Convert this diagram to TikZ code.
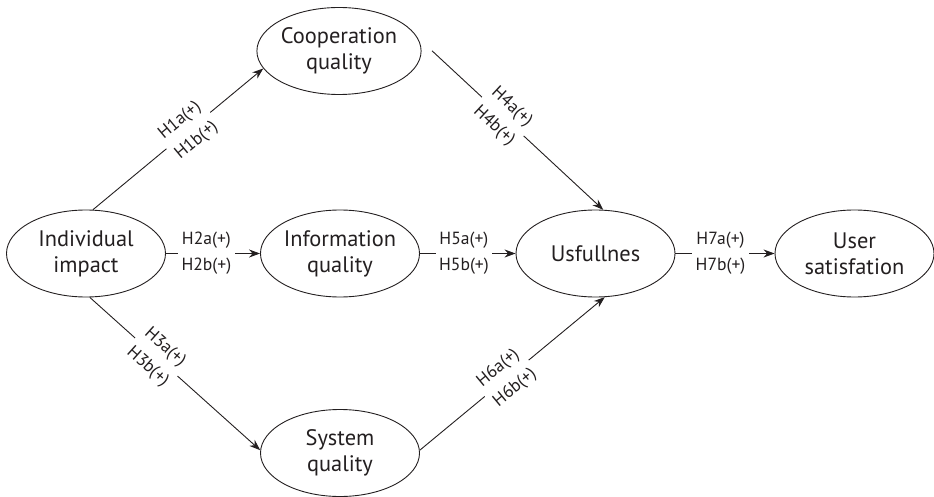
\documentclass[tikz,border=0pt]{standalone}
\usepackage{fontspec}
\setmainfont{PT Sans}
\usetikzlibrary{arrows.meta,shapes.geometric}
\definecolor{ink}{RGB}{35,31,32}
\begin{document}
\begin{tikzpicture}[x=1pt,y=1pt,
  construct/.style={ellipse, draw=ink, line width=0.9pt, minimum width=159pt,
    minimum height=87pt, inner sep=0pt, align=center, text=ink,
    font=\fontsize{22.4}{26}\selectfont},
  link/.style={draw=ink, line width=0.9pt, -{Stealth[length=11pt,width=8pt]}},
  hyp/.style={fill=white, sloped, align=center, inner sep=3.5pt, text=ink,
    font=\fontsize{17.6}{26}\selectfont}]
\useasboundingbox (0,0) rectangle (934,-497);

% constructs
\node[construct] (ind)  at (86,-253.5)  {Individual\\impact};
\node[construct] (coop) at (339,-51)    {Cooperation\\quality};
\node[construct] (info) at (340,-253.5) {Information\\quality};
\node[construct] (sys)  at (340,-453)   {System\\quality};
\node[construct] (usf)  at (595.5,-253.5) {Usfullnes};
\node[construct] (user) at (854.5,-253.5) {User\\satisfation};

% hypotheses
\draw[link] (ind.81) -- node[hyp,pos=0.56]{H1a(+)\\H1b(+)} (coop.193);
\draw[link] (ind.east) -- node[hyp,pos=0.43]{H2a(+)\\H2b(+)} (info.west);
\draw[link] (ind.-85) -- node[hyp,pos=0.39]{H3a(+)\\H3b(+)} (sys.178);
\draw[link, shorten <=20pt] (coop.10) -- node[hyp,pos=0.46]{H4a(+)\\H4b(+)} (usf.80);
\draw[link] (info.east) -- node[hyp,pos=0.46]{H5a(+)\\H5b(+)} (usf.west);
\draw[link] (sys.2) -- node[hyp,pos=0.47]{H6a(+)\\H6b(+)} (usf.-78);
\draw[link] (usf.east) -- node[hyp,pos=0.455]{H7a(+)\\H7b(+)} (user.west);
\end{tikzpicture}
\end{document}
